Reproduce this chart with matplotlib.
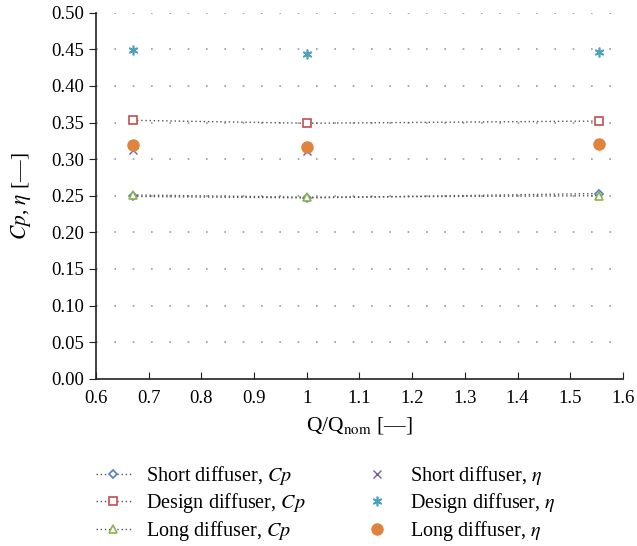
import matplotlib
matplotlib.use("Agg")
import matplotlib.pyplot as plt

plt.rcParams['font.family'] = ['Liberation Serif', 'DejaVu Serif']
plt.rcParams['mathtext.fontset'] = 'stix'

x = [0.67, 1.0, 1.555]
short_cp = [0.249, 0.247, 0.253]
design_cp = [0.353, 0.349, 0.352]
long_cp = [0.251, 0.248, 0.250]
short_eta = [0.312, 0.311, 0.321]
design_eta = [0.449, 0.443, 0.446]
long_eta = [0.319, 0.316, 0.320]

labels = ["Short diffuser, $Cp$", "Design diffuser, $Cp$", "Long diffuser, $Cp$",
          "Short diffuser, $\\eta$", "Design diffuser, $\\eta$", "Long diffuser, $\\eta$"]

fig = plt.figure(figsize=(6.37, 5.46), dpi=100)
ax = fig.add_axes([0.1507, 0.3064, 0.8273, 0.6703])

for y in [i * 0.05 for i in range(1, 11)]:
    ax.axhline(y, color='#9a9a9a', linestyle=(0, (1, 10)), linewidth=1.2, zorder=0)

line_kw = dict(color='#555555', linestyle=(0, (1, 2)), linewidth=1.0)
h1, = ax.plot(x, short_cp, marker='D', markersize=4.5, markerfacecolor='white',
              markeredgecolor='#4f7fc0', markeredgewidth=1.2, label=labels[0], **line_kw)
h2, = ax.plot(x, design_cp, marker='s', markersize=5.2, markerfacecolor='white',
              markeredgecolor='#c0504d', markeredgewidth=1.2, label=labels[1], **line_kw)
h3, = ax.plot(x, long_cp, marker='^', markersize=5.5, markerfacecolor='white',
              markeredgecolor='#8fb04f', markeredgewidth=1.2, label=labels[2], **line_kw)
h4, = ax.plot(x, short_eta, linestyle='none', marker='x', markersize=5.5,
              markeredgecolor='#7a5ea0', markeredgewidth=1.0, label=labels[3])
h5, = ax.plot(x, design_eta, linestyle='none', marker=(6, 2, 0), markersize=7,
              markeredgecolor='#4aa2bd', markeredgewidth=1.2, label=labels[4])
h6, = ax.plot(x, long_eta, linestyle='none', marker='o', markersize=8,
              markerfacecolor='#e0833f', markeredgecolor='#e0833f', label=labels[5])

ax.set_xlim(0.6, 1.6)
ax.set_ylim(0, 0.5)
ax.set_xticks([0.6 + 0.1 * i for i in range(11)])
ax.set_xticklabels(["0.6", "0.7", "0.8", "0.9", "1", "1.1", "1.2", "1.3", "1.4", "1.5", "1.6"])
ax.set_yticks([0.05 * i for i in range(11)])
ax.set_yticklabels([f"{0.05 * i:.2f}" for i in range(11)])
ax.tick_params(axis='x', direction='in', length=5, labelsize=13.5, pad=8, color='#222222')
ax.tick_params(axis='y', direction='out', length=5, labelsize=13.5, color='#222222')
for s in ['top', 'right']:
    ax.spines[s].set_visible(False)
for s in ['left', 'bottom']:
    ax.spines[s].set_linewidth(1.2)
    ax.spines[s].set_color('#222222')

ax.set_xlabel("Q/Q$_{\\mathrm{nom}}$ [—]", fontsize=15.5, labelpad=6)
ax.set_ylabel("$Cp$, $\\eta$ [—]", fontsize=15.5, labelpad=13)

fig.legend(handles=[h1, h2, h3, h4, h5, h6], loc='upper left',
           bbox_to_anchor=(0.122, 0.184), ncol=2, frameon=False, fontsize=14.5,
           handlelength=1.75, columnspacing=2.65, labelspacing=0.2, handletextpad=0.75)

fig.savefig("out.png", dpi=100)
